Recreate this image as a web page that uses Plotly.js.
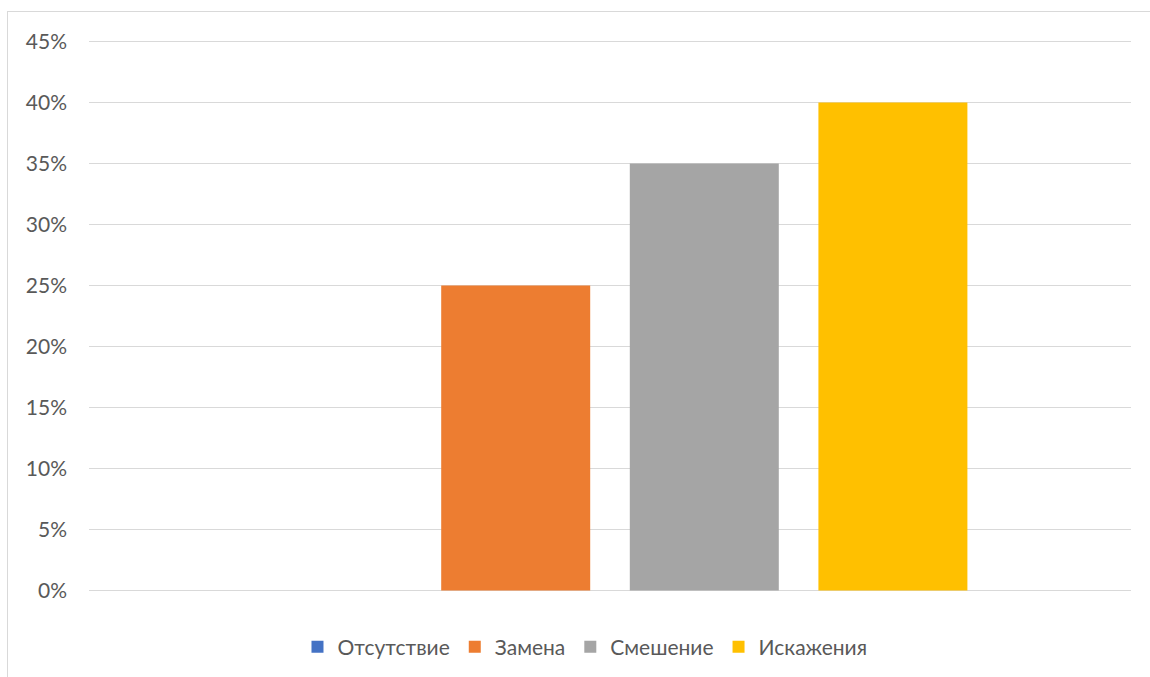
<!DOCTYPE html>
<html>
<head>
<meta charset="utf-8">
<script src="https://cdn.plot.ly/plotly-3.0.1.min.js"></script>
<style>
  html, body { margin: 0; padding: 0; width: 1150px; height: 677px; overflow: hidden; background: #fff; }
  #frame { position: absolute; left: 7px; top: 11px; width: 1170px; height: 700px; border: 1.5px solid #d9d9d9; box-sizing: border-box; }
  #chart { position: absolute; left: 0; top: 0; width: 1150px; height: 677px; }
</style>
</head>
<body>
<div id="frame"></div>
<div id="chart"></div>
<script>
const categories = [""];
const seriesNames = ["Отсутствие", "Замена", "Смешение", "Искажения"];
const seriesValues = [0, 0.25, 0.35, 0.40];
const seriesColors = ["#4472C4", "#ED7D31", "#A5A5A5", "#FFC000"];
const yTickValues = [0, 0.05, 0.10, 0.15, 0.20, 0.25, 0.30, 0.35, 0.40, 0.45];

const traces = seriesNames.map((name, i) => ({
  type: "bar",
  name: name,
  x: categories,
  y: [seriesValues[i]],
  marker: { color: seriesColors[i] },
  hoverinfo: "skip"
}));

const font = { family: "Lato, 'Noto Sans', sans-serif", size: 21, color: "#595959" };

const layout = {
  width: 1150,
  height: 677,
  margin: { l: 89, r: 19, t: 40, b: 85, autoexpand: false },
  paper_bgcolor: "rgba(0,0,0,0)",
  plot_bgcolor: "rgba(0,0,0,0)",
  font: font,
  barmode: "group",
  bargap: 0.276,
  bargroupgap: 0.21,
  showlegend: true,
  legend: {
    orientation: "h",
    x: 0.476, xanchor: "center",
    y: -0.1, yanchor: "middle",
    font: font,
    itemclick: false,
    traceorder: "normal"
  },
  xaxis: {
    type: "category",
    showticklabels: false,
    showgrid: false,
    zeroline: false,
    showline: false,
    fixedrange: true
  },
  yaxis: {
    range: [-0.0012, 0.4512],
    tickvals: yTickValues,
    tickformat: ".0%",
    showgrid: true,
    gridcolor: "#d9d9d9",
    gridwidth: 1.3,
    zeroline: false,
    showline: false,
    ticks: "",
    ticklabelstandoff: 21,
    tickfont: font,
    fixedrange: true
  }
};

Plotly.newPlot("chart", traces, layout, { displayModeBar: false, staticPlot: true });
</script>
</body>
</html>
